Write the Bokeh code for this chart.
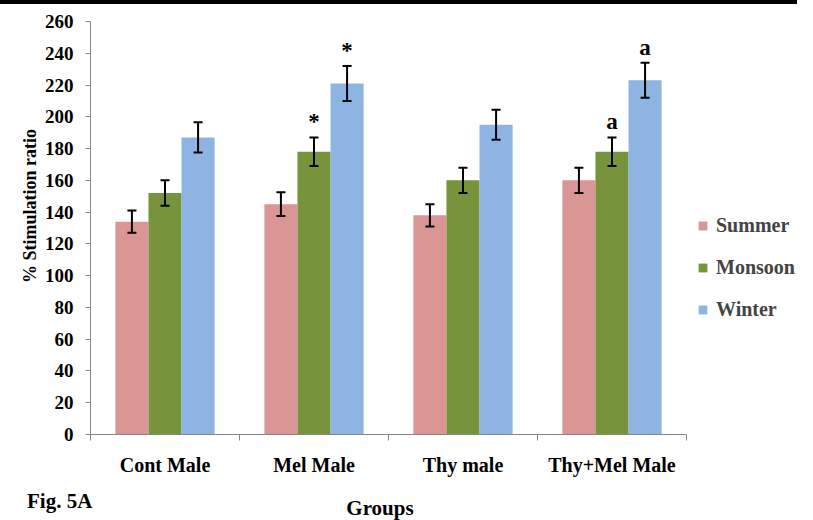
from bokeh.plotting import figure
from bokeh.layouts import column
from bokeh.models import (ColumnDataSource, Range1d, LinearAxis,
                          FixedTicker, Whisker, Legend, LegendItem, TeeHead, Div)
from bokeh.transform import dodge
from bokeh.core.properties import value
from bokeh.embed import file_html
from bokeh.resources import INLINE

categories = ["Cont Male", "Mel Male", "Thy male", "Thy+Mel Male"]
series_names = ["Summer", "Monsoon", "Winter"]
summer = [134, 145, 138, 160]
monsoon = [152, 178, 160, 178]
winter = [187, 221, 195, 223]
summer_err = [7, 7.5, 7, 8]
monsoon_err = [8, 9, 8, 9]
winter_err = [9.5, 11, 9.5, 11]
summer_marks = ["", "", "", ""]
monsoon_marks = ["", "*", "", "a"]
winter_marks = ["", "*", "", "a"]
colors = ["#D99694", "#77933C", "#8EB4E3"]
y_ticks = list(range(0, 261, 20))
y_max = 260
y_title = "% Stimulation ratio"
x_title = "Groups"
fig_title = "Fig. 5A"

FONT = "Liberation Serif"
AXIS_GRAY = "#868686"

n = len(categories)
centers = [i + 0.5 for i in range(n)]
legend_room = 0.745        # extra x space (in category widths) that holds the legend

p = figure(width=797, height=504,
           x_range=Range1d(0, n + legend_room),
           y_range=Range1d(0, y_max),
           output_backend="svg", toolbar_location=None,
           x_axis_location=None,
           min_border_left=90, min_border_right=0,
           min_border_top=21, min_border_bottom=70)
p.outline_line_color = None
p.grid.visible = False
p.background_fill_color = "white"
p.border_fill_alpha = 0

# y axis
ya = p.yaxis[0]
ya.ticker = FixedTicker(ticks=y_ticks)
ya.axis_line_color = AXIS_GRAY
ya.major_tick_line_color = AXIS_GRAY
ya.major_tick_out = 5
ya.major_tick_in = 0
ya.minor_tick_line_color = None
ya.major_label_text_font = FONT
ya.major_label_text_font_style = "bold"
ya.major_label_text_font_size = "19px"
ya.major_label_text_color = "black"
ya.major_label_standoff = 12

# x axis line with ticks at category boundaries
xa_ticks = LinearAxis(ticker=FixedTicker(ticks=list(range(n + 1))), bounds=(0, n),
                      axis_line_color=AXIS_GRAY, major_tick_line_color=AXIS_GRAY,
                      major_tick_out=6, major_tick_in=0, minor_tick_line_color=None,
                      major_label_text_alpha=0, major_label_text_font_size="1px",
                      major_label_standoff=0)
p.add_layout(xa_ticks, "below")
# category labels at category centres
xa = LinearAxis(ticker=FixedTicker(ticks=centers), bounds=(0, n),
                major_label_overrides={c: name for c, name in zip(centers, categories)},
                axis_line_color=None, major_tick_line_color=None, minor_tick_line_color=None,
                major_label_text_font=FONT, major_label_text_font_style="bold",
                major_label_text_font_size="20px", major_label_text_color="black",
                major_label_standoff=7)
p.add_layout(xa, "below")

vals = [summer, monsoon, winter]
errs = [summer_err, monsoon_err, winter_err]
marks = [summer_marks, monsoon_marks, winter_marks]
bw = 0.222
offsets = [-bw, 0.0, bw]
items = []
for name, v, e, m, c, off in zip(series_names, vals, errs, marks, colors, offsets):
    src = ColumnDataSource(dict(
        x=centers, val=v,
        upper=[a + b for a, b in zip(v, e)],
        lower=[a - b for a, b in zip(v, e)],
        mark=m))
    r = p.vbar(x=dodge("x", off), top="val", width=bw,
               source=src, fill_color=c, line_color=None)
    items.append(LegendItem(label=name, renderers=[r]))
    w = Whisker(base=dodge("x", off), upper="upper", lower="lower",
                source=src, line_color="black", line_width=2, level="annotation",
                upper_head=TeeHead(size=9, line_width=2, line_color="black"),
                lower_head=TeeHead(size=9, line_width=2, line_color="black"))
    p.add_layout(w)
    p.text(x=dodge("x", off), y="upper", text="mark", source=src,
           text_font=value(FONT), text_font_style="bold", text_font_size="23px",
           text_align="center", text_baseline="bottom", y_offset=-3, text_color="black")

legend = Legend(items=items, location=(607, 113), orientation="vertical",
                glyph_width=11, glyph_height=11, label_standoff=8,
                label_text_font=FONT, label_text_font_style="bold",
                label_text_font_size="20px", label_height=20, spacing=19,
                padding=0, margin=0, border_line_color=None, background_fill_alpha=0)
p.add_layout(legend)

TXT = {"font-family": FONT, "font-weight": "bold", "color": "black"}

spacer = Div(text="", width=797, height=4, margin=(-8, 0, 4, -8),
             styles={"background-color": "black"})
fig_label = Div(text=fig_title, width=100, height=24, margin=(-15, 0, 0, 27),
                styles=dict(TXT, **{"font-size": "21px", "line-height": "24px"}))
groups_label = Div(text=x_title, width=120, height=24, margin=(-17, 0, 0, 320),
                   styles=dict(TXT, **{"font-size": "21px", "line-height": "24px",
                                       "text-align": "center"}))
ylabel = Div(text=('<div style="width:160px;height:22px;line-height:22px;'
                   'text-align:center;white-space:nowrap;font-size:18px;'
                   'transform:translate(0px,69px) rotate(-90deg);">%s</div>' % y_title),
             width=160, height=160, margin=(-394, 0, 218, -50), styles=TXT)
top_rule = Div(text="", width=797, height=4, margin=(-504, 0, 500, 0),
               styles={"background-color": "black"})
layout = column(spacer, p, fig_label, groups_label, ylabel, top_rule, spacing=0)

open("out.html", "w").write(file_html(layout, INLINE))
